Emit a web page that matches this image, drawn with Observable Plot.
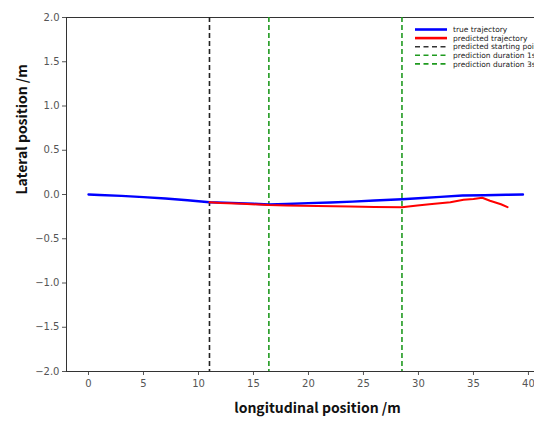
<!DOCTYPE html>
<html>
<head>
<meta charset="utf-8">
<script src="https://cdn.jsdelivr.net/npm/d3@7"></script>
<script src="https://cdn.jsdelivr.net/npm/@observablehq/plot@0.6"></script>
<style>
  body { margin: 0; background: #fff; }
  #wrap { position: relative; width: 534px; height: 423px; overflow: hidden; }
  #legend { position: absolute; left: 0; top: 0; }
</style>
</head>
<body>
<div id="wrap"><div id="chart"></div><svg id="legend" width="534" height="80"></svg></div>
<script>
// true trajectory (longitudinal m, lateral m)
const trueX = [0, 1, 3, 5, 7, 9, 11, 13, 15, 16.4, 18, 20, 22, 24, 26, 28.5, 30, 32, 34, 36, 38, 39.5];
const trueY = [0.0, -0.005, -0.015, -0.03, -0.045, -0.065, -0.087, -0.095, -0.105, -0.113, -0.108, -0.098, -0.09, -0.08, -0.068, -0.053, -0.042, -0.027, -0.012, -0.008, -0.003, 0.0];
// predicted trajectory
const predX = [11, 12, 14, 16.4, 18, 20.8, 23.8, 26, 28.5, 29.9, 31, 32.9, 34.1, 35, 35.8, 36.5, 37.5, 38.1];
const predY = [-0.087, -0.095, -0.105, -0.12, -0.125, -0.13, -0.135, -0.14, -0.143, -0.125, -0.11, -0.087, -0.06, -0.05, -0.037, -0.07, -0.11, -0.143];
// vertical markers
const startX = [11];
const durX = [16.4, 28.5];
const yTicks = [-2, -1.5, -1, -0.5, 0, 0.5, 1, 1.5, 2];
const xTicks = [0, 5, 10, 15, 20, 25, 30, 35, 40];
const legendLabels = ["true trajectory", "predicted trajectory", "predicted starting point", "prediction duration 1s", "prediction duration 3s"];

const trueData = trueX.map((x, i) => ({x, y: trueY[i]}));
const predData = predX.map((x, i) => ({x, y: predY[i]}));

const GREEN = "#1f9a1f";
const chart = Plot.plot({
  width: 534,
  height: 423,
  marginTop: 17,
  marginLeft: 66,
  marginRight: 0,
  marginBottom: 52,
  style: {fontFamily: "DejaVu Sans, sans-serif", fontSize: "10px", color: "#555", background: "#fff"},
  x: {domain: [-2, 40.55], ticks: xTicks, tickSize: 4, label: null, tickPadding: 4},
  y: {domain: [-2, 2], ticks: yTicks, tickSize: 4, label: null, tickFormat: d3.format(".1f"), tickPadding: 3},
  marks: [
    Plot.ruleY([2], {stroke: "#333", strokeWidth: 1}),
    Plot.ruleY([-2], {stroke: "#333", strokeWidth: 1}),
    Plot.ruleX([-2], {stroke: "#333", strokeWidth: 1}),
    Plot.ruleX(startX, {stroke: "#222", strokeWidth: 1.6, strokeDasharray: "5,3"}),
    Plot.ruleX(durX, {stroke: GREEN, strokeWidth: 1.6, strokeDasharray: "5,3"}),
    Plot.line(trueData, {x: "x", y: "y", stroke: "#0000ff", strokeWidth: 2.4}),
    Plot.line(predData, {x: "x", y: "y", stroke: "#ff0000", strokeWidth: 2}),
    Plot.text(["longitudinal position /m"], {frameAnchor: "bottom", dx: 17, dy: 41, fontSize: 14, fontWeight: 600, fill: "#111", fontFamily: "Noto Sans CJK SC, Noto Sans, sans-serif"}),
    Plot.text(["Lateral position /m"], {frameAnchor: "left", dx: -44, rotate: -90, fontSize: 14, fontWeight: 600, fill: "#111", fontFamily: "Noto Sans CJK SC, Noto Sans, sans-serif"})
  ]
});
document.getElementById("chart").appendChild(chart);

// legend
const leg = d3.select("#legend");
const styles = [
  {stroke: "#0000ff", w: 2.6, dash: null},
  {stroke: "#ff0000", w: 2.6, dash: null},
  {stroke: "#333", w: 1.6, dash: "5,3.5"},
  {stroke: GREEN, w: 1.6, dash: "5,3.5"},
  {stroke: GREEN, w: 1.6, dash: "5,3.5"}
];
legendLabels.forEach((lab, i) => {
  const y = 29.5 + i * 8.6;
  const l = leg.append("line").attr("x1", 415).attr("x2", 447).attr("y1", y).attr("y2", y)
    .attr("stroke", styles[i].stroke).attr("stroke-width", styles[i].w);
  if (styles[i].dash) l.attr("stroke-dasharray", styles[i].dash);
  leg.append("text").attr("x", 453).attr("y", y).attr("dy", "0.35em")
    .attr("font-size", 7.5).attr("font-family", "DejaVu Sans, sans-serif").attr("fill", "#222").text(lab);
});
</script>
</body>
</html>
